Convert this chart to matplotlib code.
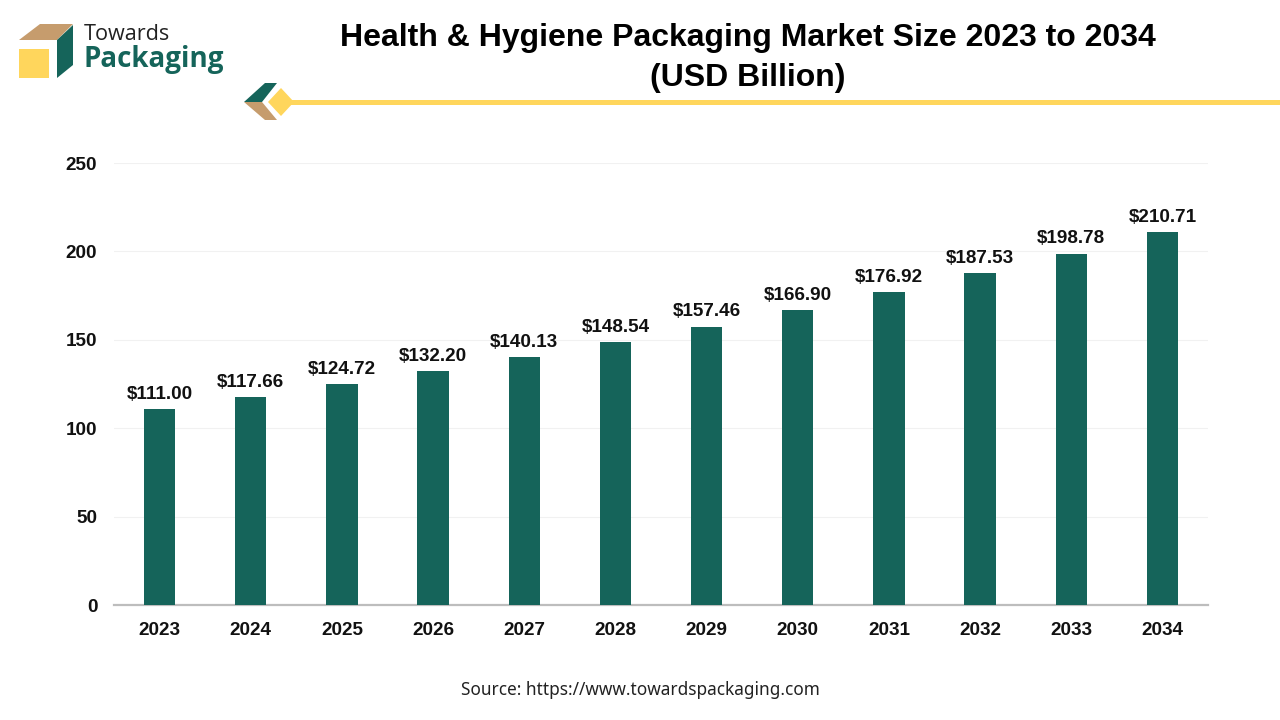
import matplotlib
matplotlib.use("Agg")
import matplotlib.pyplot as plt
from matplotlib.patches import Polygon, Rectangle

years = ["2023", "2024", "2025", "2026", "2027", "2028", "2029", "2030", "2031", "2032", "2033", "2034"]
values = [111.00, 117.66, 124.72, 132.20, 140.13, 148.54, 157.46, 166.90, 176.92, 187.53, 198.78, 210.71]
y_ticks = [0, 50, 100, 150, 200, 250]

GREEN = "#15645A"
TAN = "#C69C6D"
YELLOW = "#FFD65C"
W, H = 1280, 720

plt.rcParams["font.family"] = ["Liberation Sans", "DejaVu Sans"]

fig = plt.figure(figsize=(W / 100, H / 100), dpi=100, facecolor="white")

# chart area
ax = fig.add_axes([114 / W, 1 - 605 / H, (1208 - 114) / W, (605 - 163) / H])
ax.bar(years, values, width=0.345, color=GREEN, zorder=3)
ax.set_xlim(-0.5, 11.5)
ax.set_ylim(0, 250)
ax.set_yticks(y_ticks)
ax.grid(axis="y", color="#F1F1F1", linewidth=0.8, zorder=0)
ax.set_axisbelow(True)
for name in ["top", "right", "left"]:
    ax.spines[name].set_visible(False)
ax.spines["bottom"].set_color("#BDBDBD")
ax.spines["bottom"].set_linewidth(1.6)
ax.tick_params(axis="both", length=0, labelsize=13.6)
ax.tick_params(axis="x", pad=12.5)
ax.tick_params(axis="y", pad=12)
for lab in ax.get_xticklabels() + ax.get_yticklabels():
    lab.set_fontweight("bold")
    lab.set_color("#111111")
for i, v in enumerate(values):
    ax.annotate(f"${v:.2f}", (i, v), xytext=(0, 4.5), textcoords="offset points",
                ha="center", va="bottom", fontsize=13.6, fontweight="bold", color="#111111")

# overlay in pixel coordinates for header, logo and source
over = fig.add_axes([0, 0, 1, 1], zorder=5)
over.set_xlim(0, W)
over.set_ylim(H, 0)
over.axis("off")

over.text(748, 38, "Health & Hygiene Packaging Market Size 2023 to 2034", ha="center", va="center",
          fontsize=23.05, fontweight="bold", color="#000000")
over.text(748, 78, "(USD Billion)", ha="center", va="center",
          fontsize=23.05, fontweight="bold", color="#000000")
over.text(640, 690, "Source: https://www.towardspackaging.com", ha="center", va="center",
          fontsize=12.4, family=["Noto Sans", "DejaVu Sans"], color="#222222")

# logo
over.add_patch(Polygon([(19, 40), (40, 24), (73, 24), (57, 40)], color=TAN, lw=0))
over.add_patch(Polygon([(57, 40), (73, 25), (73, 65), (57, 78)], color=GREEN, lw=0))
over.add_patch(Rectangle((19, 49), 30, 29, color=YELLOW, lw=0))
over.text(84, 34, "Towards", ha="left", va="center", fontsize=15.6,
          family=["Open Sans", "DejaVu Sans"], color="#222222")
over.text(84, 60, "Packaging", ha="left", va="center", fontsize=20, fontweight="bold",
          family=["Open Sans", "DejaVu Sans"], color=GREEN)

# header rule and arrow ornament
over.add_patch(Polygon([(244, 102), (265, 83), (277, 83), (262, 102)], color=GREEN, lw=0))
over.add_patch(Polygon([(244, 102), (262, 102), (277, 120), (265, 120)], color=TAN, lw=0))
over.add_patch(Polygon([(265, 102), (281, 85), (297, 102), (281, 119)], color="white", lw=0))
over.add_patch(Rectangle((285, 100), W - 285, 5, color=YELLOW, lw=0))
over.add_patch(Polygon([(268, 102), (281, 88), (294, 102), (281, 116)], color=YELLOW, lw=0))

fig.savefig("out.png", dpi=100)
